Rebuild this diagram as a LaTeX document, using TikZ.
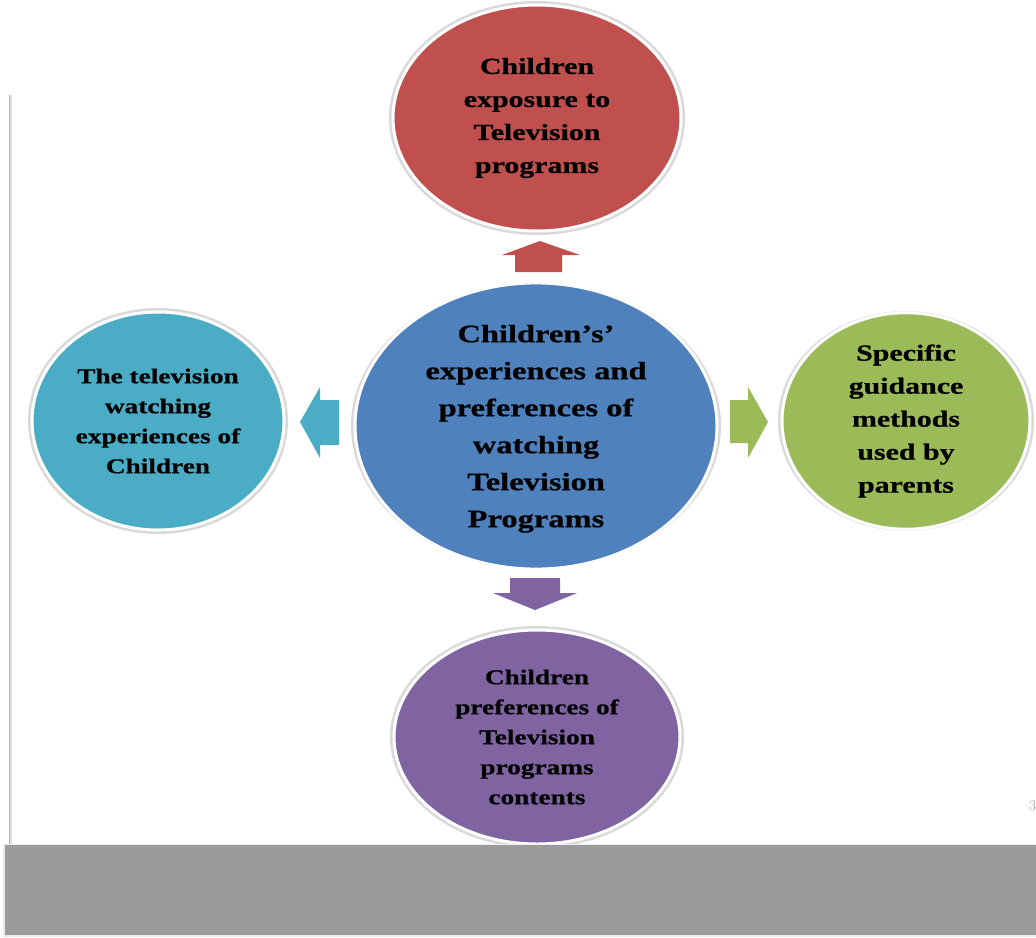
\documentclass[tikz,border=0pt]{standalone}
\usepackage{fontspec}
\usetikzlibrary{shapes.geometric}
\newfontfamily\lblfont{Liberation Serif}[FakeStretch=1.3, FakeBold=0.6]
\definecolor{accred}{HTML}{C0504D}
\definecolor{accblue}{HTML}{4F81BD}
\definecolor{accaqua}{HTML}{4BACC6}
\definecolor{accgreen}{HTML}{9BBB59}
\definecolor{accpurple}{HTML}{8064A2}
\definecolor{bandgray}{HTML}{9B9B9B}
\tikzset{
  bubble/.style={ellipse, inner sep=0pt, draw=white, line width=3pt,
    align=center, text=black},
  halo/.style={draw=black!15, line width=6pt},
  lblA/.style={font=\lblfont\bfseries\fontsize{23}{33}\selectfont},
  lblB/.style={font=\lblfont\bfseries\fontsize{21}{30}\selectfont},
  lblC/.style={font=\lblfont\bfseries\fontsize{25}{37}\selectfont},
}
\begin{document}
\begin{tikzpicture}[x=1pt,y=-1pt]
\useasboundingbox (0,0) rectangle (1036,937);
\fill[white] (0,0) rectangle (1036,937);

% slide edge on the left
\draw[black!12, line width=3pt] (10,95) -- (10,845);
\draw[black!30, line width=1pt] (9.5,95) -- (9.5,845);

% soft halos behind the bubbles
\draw[halo] (537,118) ellipse (145 and 114);
\draw[halo] (536,426) ellipse (182 and 140);
\draw[halo] (158,421) ellipse (127 and 110);
\draw[halo] (906,421) ellipse (125 and 107);
\draw[halo] (537,737) ellipse (144 and 108);

% bubbles
\node[bubble, fill=accred, minimum width=288pt, minimum height=226pt, lblA]
  (top) at (537,118) {Children\\exposure to\\Television\\programs};
\node[bubble, fill=accblue, minimum width=362pt, minimum height=278pt, lblC,
  text depth=0pt]
  (hub) at (536,426) {Children’s’\\experiences and\\preferences of\\watching\\Television\\Programs};
\node[bubble, fill=accaqua, minimum width=252pt, minimum height=218pt, lblB]
  (left) at (158,421) {The television\\watching\\experiences of\\Children};
\node[bubble, fill=accgreen, minimum width=248pt, minimum height=212pt, lblA]
  (right) at (906,421) {Specific\\guidance\\methods\\used by\\parents};
\node[bubble, fill=accpurple, minimum width=286pt, minimum height=214pt, lblB]
  (bottom) at (537,737) {Children\\preferences of\\Television\\programs\\contents};

% block arrows pointing from the hub to each bubble
\fill[accred] (515,272) -- (515,255) -- (502,255) -- (540,241) -- (580,255)
  -- (562,255) -- (562,272) -- cycle;
\fill[accpurple] (510,578) -- (560,578) -- (560,593) -- (577,593) -- (535,610)
  -- (493,593) -- (510,593) -- cycle;
\fill[accaqua] (339,400) -- (320,400) -- (320,387) -- (300,422) -- (320,458)
  -- (320,445) -- (339,445) -- cycle;
\fill[accgreen] (730,400) -- (748,400) -- (748,387) -- (768,422) -- (748,458)
  -- (748,443) -- (730,443) -- cycle;

% slide number
\node[anchor=west, text=black!40, inner sep=0pt, font=\fontsize{15}{17}\selectfont] (pagenum) at (1029,806) {3};

% grey band at the foot
\fill[black!8] (3,844) rectangle (1036,937);
\fill[bandgray] (5,845) rectangle (1036,935);
\end{tikzpicture}
\end{document}
